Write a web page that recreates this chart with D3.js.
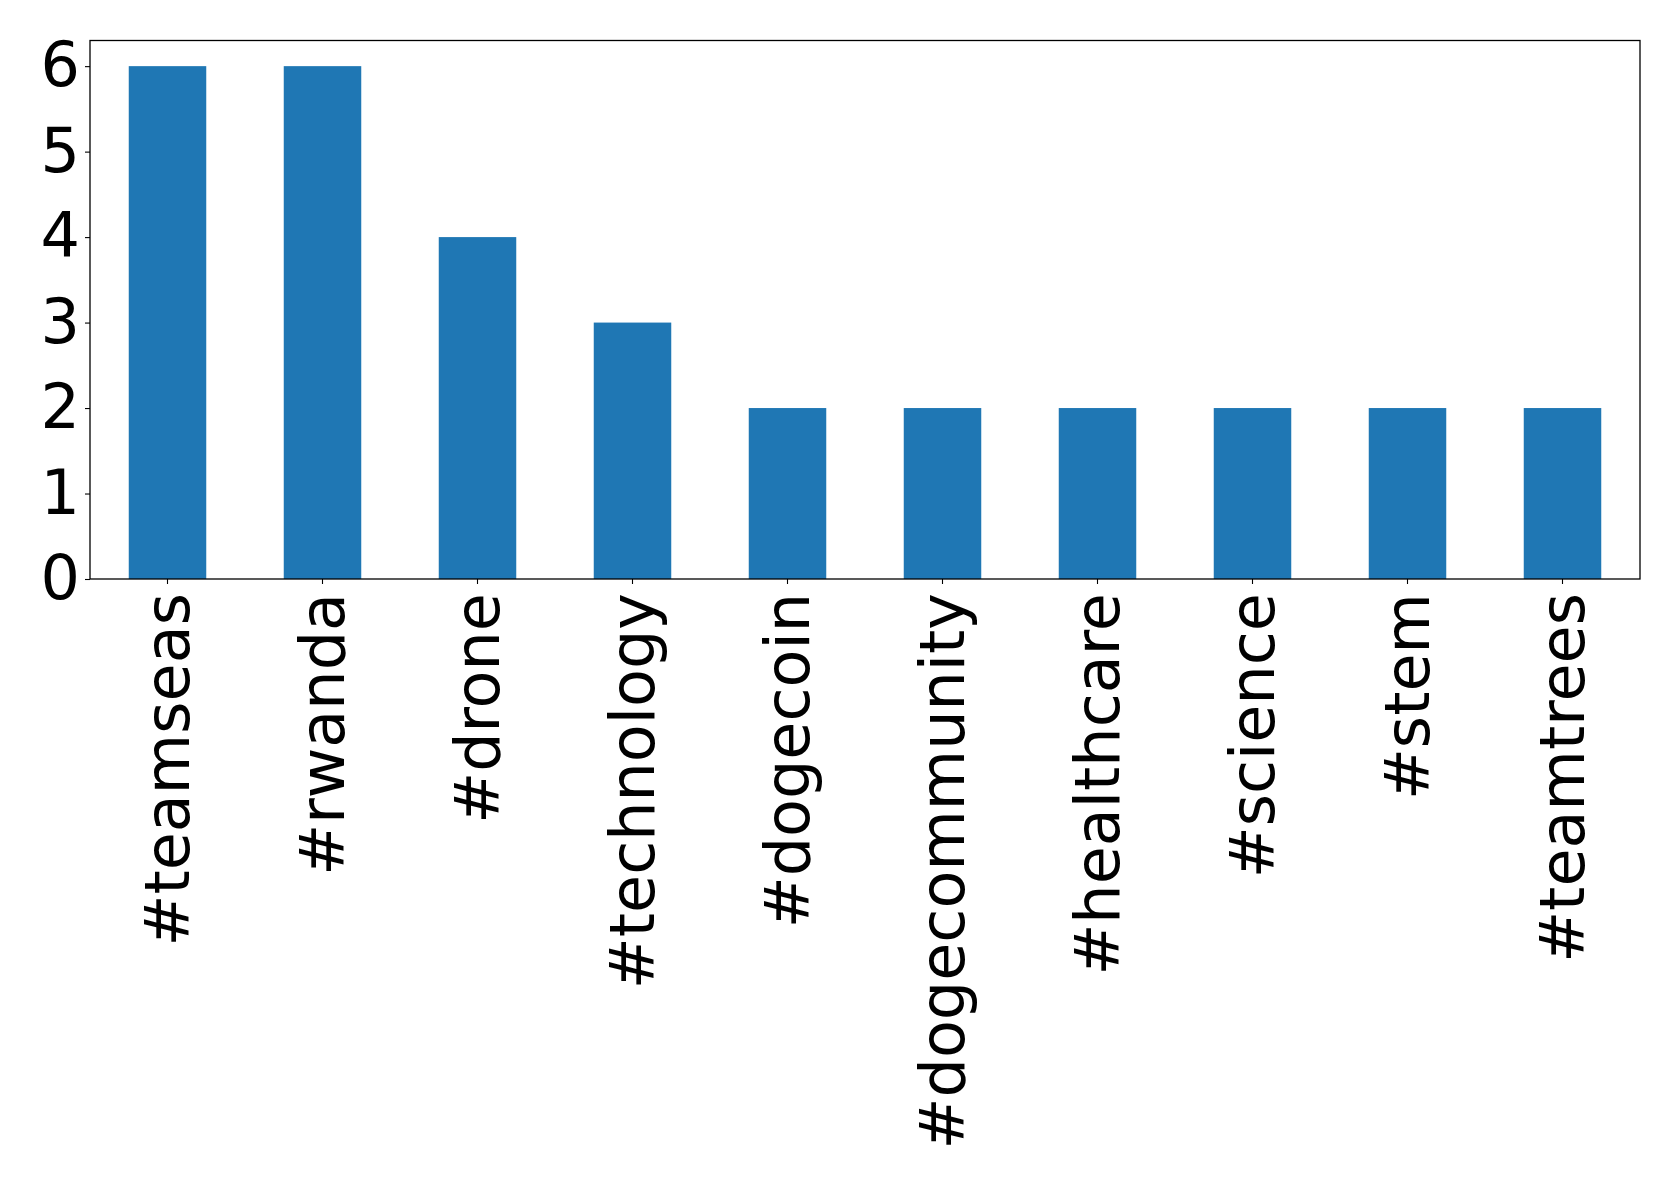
<!DOCTYPE html>
<html><head><meta charset="utf-8">
<script src="https://cdn.jsdelivr.net/npm/d3@7"></script>
<style>body{margin:0;background:#fff}svg{display:block}</style>
</head><body>
<script>
const categories = ["#teamseas","#rwanda","#drone","#technology","#dogecoin","#dogecommunity","#healthcare","#science","#stem","#teamtrees"];
const values = [6,6,4,3,2,2,2,2,2,2];
const yTicks = [0,1,2,3,4,5,6];

const W = 1679, H = 1189;
const m = {left:90, right:1640, top:40.5, bottom:579};
const svg = d3.select("body").append("svg").attr("width",W).attr("height",H);

const x = d3.scaleBand().domain(categories).range([m.left,m.right]).paddingInner(0.5).paddingOuter(0.25);
const y = d3.scaleLinear().domain([0,6.3]).range([m.bottom,m.top]);

svg.append("g").selectAll("rect").data(values).join("rect")
  .attr("x",(d,i)=>x(categories[i])).attr("width",x.bandwidth())
  .attr("y",d=>y(d)).attr("height",d=>y(0)-y(d)).attr("fill","#1f77b4");

svg.append("rect").attr("x",m.left).attr("y",m.top).attr("width",m.right-m.left).attr("height",m.bottom-m.top)
  .attr("fill","none").attr("stroke","#000").attr("stroke-width",1.3);

const ya = svg.append("g").attr("transform",`translate(${m.left},0)`)
  .call(d3.axisLeft(y).tickValues(yTicks).tickFormat(d3.format("d")).tickSize(5).tickPadding(5));
ya.select(".domain").remove();
ya.selectAll("text").attr("font-family","DejaVu Sans").attr("font-size",62).attr("fill","#000");
ya.selectAll("line").attr("stroke","#000").attr("stroke-width",1.1);

const xa = svg.append("g").attr("transform",`translate(0,${m.bottom})`)
  .call(d3.axisBottom(x).tickSize(5).tickPadding(0));
xa.select(".domain").remove();
xa.selectAll("line").attr("stroke","#000").attr("stroke-width",1.1);
xa.selectAll("text").attr("font-family","DejaVu Sans").attr("font-size",62).attr("fill","#000")
  .attr("text-anchor","end").attr("dy","0.35em")
  .attr("transform","translate(0,14) rotate(-90)").attr("x",0).attr("y",0);
</script>
</body></html>
